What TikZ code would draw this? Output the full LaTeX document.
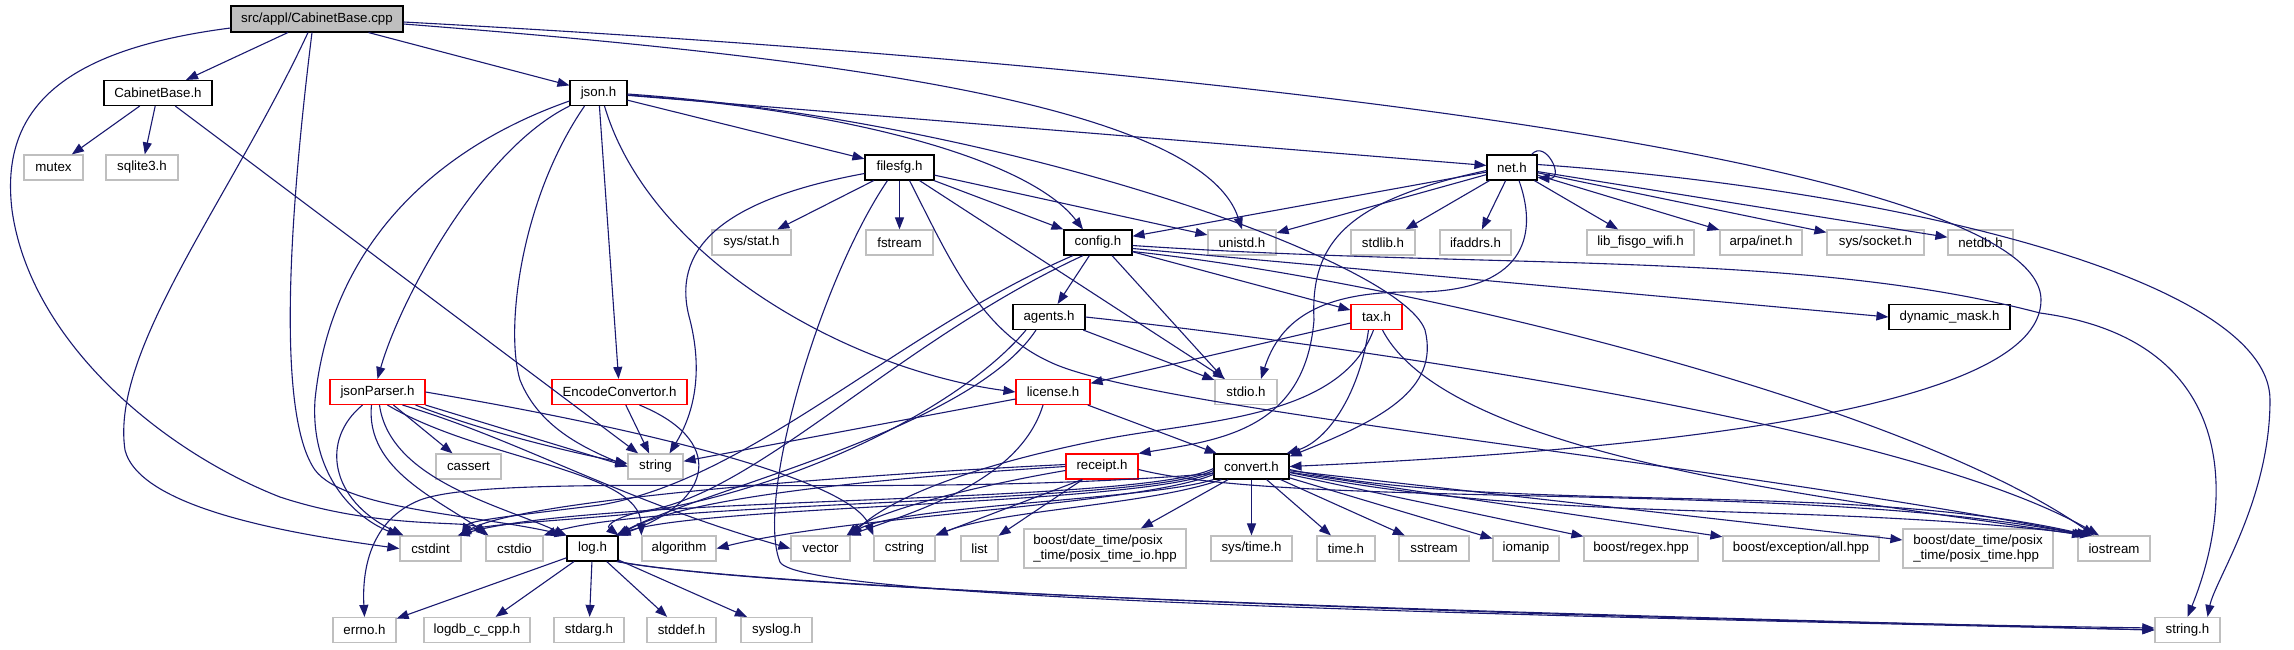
\documentclass[tikz,border=0pt]{standalone}
\usepackage{fontspec}
\setmainfont{Liberation Sans}
\usetikzlibrary{arrows.meta}
\definecolor{edgec}{HTML}{191970}
\definecolor{lgray}{HTML}{BFBFBF}
\definecolor{fillg}{HTML}{BFBFBF}
\begin{document}
\begin{tikzpicture}[x=1pt,y=-1pt,
  nb/.style={draw, rectangle, minimum height=25, inner sep=0pt, font=\fontsize{13.3}{14.5}\selectfont},
  gy/.style={nb, draw=lgray, line width=1.2pt},
  bk/.style={nb, draw=black, line width=1.1pt},
  rd/.style={nb, draw=red, line width=1.1pt},
  e/.style={draw=edgec, line width=1.1pt, -{Triangle[length=12pt,width=9pt]}},
]
\useasboundingbox[fill=white] (0,0) rectangle (2294,649);
% nodes
\node[bk, fill=fillg, minimum width=172, minimum height=26] (src) at (317,19) {src/appl/CabinetBase.cpp};
\node[bk, minimum width=108] (cbh) at (158,93) {CabinetBase.h};
\node[bk, minimum width=57] (json) at (598.5,93) {json.h};
\node[gy, minimum width=59] (mutex) at (53.5,167.5) {mutex};
\node[gy, minimum width=72] (sqlite) at (142,167.5) {sqlite3.h};
\node[bk, minimum width=69] (filesfg) at (899.5,167.5) {filesfg.h};
\node[bk, minimum width=50] (net) at (1512,167.5) {net.h};
\node[gy, minimum width=79] (sysstat) at (751.5,242.5) {sys/stat.h};
\node[gy, minimum width=67] (fstream) at (899.5,242.5) {fstream};
\node[bk, minimum width=68] (config) at (1098,242.5) {config.h};
\node[gy, minimum width=68] (unistd) at (1242,242.5) {unistd.h};
\node[gy, minimum width=64] (stdlib) at (1383,242.5) {stdlib.h};
\node[gy, minimum width=71] (ifaddrs) at (1475.5,242.5) {ifaddrs.h};
\node[gy, minimum width=107] (libfisgo) at (1640.5,242.5) {lib\_fisgo\_wifi.h};
\node[gy, minimum width=82] (arpa) at (1761,242.5) {arpa/inet.h};
\node[gy, minimum width=97] (syssocket) at (1875.5,242.5) {sys/socket.h};
\node[gy, minimum width=65] (netdb) at (1980.5,242.5) {netdb.h};
\node[bk, minimum width=72] (agents) at (1049,317) {agents.h};
\node[rd, minimum width=51] (tax) at (1376.5,317) {tax.h};
\node[bk, minimum width=121] (dynmask) at (1949.5,317) {dynamic\_mask.h};
\node[rd, minimum width=95] (jsonparser) at (377.5,392) {jsonParser.h};
\node[rd, minimum width=135] (encconv) at (619.5,392) {EncodeConvertor.h};
\node[rd, minimum width=74] (license) at (1053,392) {license.h};
\node[gy, minimum width=62] (stdio) at (1246,392) {stdio.h};
\node[gy, minimum width=65] (cassert) at (468.5,466.5) {cassert};
\node[gy, minimum width=55] (string) at (655.5,466.5) {string};
\node[rd, minimum width=72] (receipt) at (1102,466.5) {receipt.h};
\node[bk, minimum width=75] (convert) at (1251.5,466.5) {convert.h};
\node[gy, minimum width=61] (cstdint) at (430.5,548.5) {cstdint};
\node[gy, minimum width=57] (cstdio) at (514.5,548.5) {cstdio};
\node[bk, minimum width=51] (log) at (592.5,548.5) {log.h};
\node[gy, minimum width=74] (algorithm) at (679,548.5) {algorithm};
\node[gy, minimum width=59] (vector) at (820.5,548.5) {vector};
\node[gy, minimum width=61] (cstring) at (904.5,548.5) {cstring};
\node[gy, minimum width=37] (list) at (979.5,548.5) {list};
\node[gy, minimum width=162, minimum height=39, align=left] (ptio) at (1105,548.5) {boost/date\_time/posix\\\_time/posix\_time\_io.hpp};
\node[gy, minimum width=81] (systime) at (1251.5,548.5) {sys/time.h};
\node[gy, minimum width=58] (time) at (1346,548.5) {time.h};
\node[gy, minimum width=70] (sstream) at (1434,548.5) {sstream};
\node[gy, minimum width=66] (iomanip) at (1526,548.5) {iomanip};
\node[gy, minimum width=114] (regex) at (1641,548.5) {boost/regex.hpp};
\node[gy, minimum width=156] (exception) at (1801,548.5) {boost/exception/all.hpp};
\node[gy, minimum width=150, minimum height=39, align=left] (pt) at (1978,548.5) {boost/date\_time/posix\\\_time/posix\_time.hpp};
\node[gy, minimum width=72] (iostream) at (2114,548.5) {iostream};
\node[gy, minimum width=63] (errno) at (364.5,630) {errno.h};
\node[gy, minimum width=106] (logdb) at (477,630) {logdb\_c\_cpp.h};
\node[gy, minimum width=70] (stdarg) at (589,630) {stdarg.h};
\node[gy, minimum width=69] (stddef) at (681.5,630) {stddef.h};
\node[gy, minimum width=71] (syslog) at (776.5,630) {syslog.h};
\node[gy, minimum width=65] (stringh) at (2187.5,630) {string.h};
% src
\draw[e] (src) -- (cbh);
\draw[e] (src) -- (json);
\draw[e] ([yshift=-5pt]src.east) .. controls (800,55) and (1200,100) .. (unistd.north);
\draw[e] ([yshift=-3pt]src.east) .. controls (1300,70) and (2041,170) .. (2041,300) .. controls (2041,410) and (1650,450) .. (convert.east);
\draw[e] ([xshift=-9pt]src.south) .. controls (230,200) and (110,350) .. (125,450) .. controls (140,510) and (300,535) .. (cstdint.west);
\draw[e] ([yshift=-9pt]src.west) .. controls (60,50) and (0,110) .. (12,210) .. controls (30,340) and (160,450) .. (280,497) .. controls (380,530) and (470,520) .. (cstdio.north west);
\draw[e] ([xshift=-5pt]src.south) .. controls (285,250) and (280,420) .. (315,470) .. controls (345,510) and (480,515) .. (log.north west);
% CabinetBase.h
\draw[e] (cbh) -- (mutex);
\draw[e] (cbh) -- (sqlite);
\draw[e] (cbh) -- (string);
% json.h
\draw[e] (json) -- (filesfg);
\draw[e] ([yshift=-2pt]json.east) .. controls (850,110) and (1030,160) .. ([xshift=-15pt]config.north);
\draw[e] (json) -- (net);
\draw[e] (json.south west) .. controls (480,150) and (400,300) .. (jsonparser.north);
\draw[e] (json) -- (encconv);
\draw[e] ([xshift=-14pt]json.south) .. controls (520,200) and (505,330) .. (520,380) .. controls (540,430) and (590,450) .. (string.west);
\draw[e] ([yshift=-8pt]json.west) .. controls (430,150) and (330,250) .. (315,400) .. controls (310,480) and (360,520) .. (cstdint.north west);
\draw[e] ([xshift=6pt]json.south) .. controls (650,260) and (850,370) .. (license.west);
\draw[e] ([yshift=-1pt]json.east) .. controls (1000,120) and (1400,260) .. (1425,330) .. controls (1440,390) and (1380,420) .. ([yshift=-3pt]convert.north east);
% filesfg.h
\draw[e] (filesfg) -- (sysstat);
\draw[e] (filesfg) -- (fstream);
\draw[e] (filesfg) -- (config);
\draw[e] (filesfg) -- (unistd);
\draw[e] ([xshift=20pt]filesfg.south) -- ([xshift=-21pt]stdio.north);
\draw[e] ([yshift=-6pt]filesfg.west) .. controls (720,200) and (670,250) .. (690,320) .. controls (705,380) and (690,420) .. ([xshift=14pt]string.north);
\draw[e] ([xshift=-12pt]filesfg.south) .. controls (820,280) and (755,500) .. (780,562) .. controls (800,600) and (1500,615) .. (stringh.west);
\draw[e] ([xshift=10pt]filesfg.south) .. controls (950,260) and (980,330) .. (1050,362) .. controls (1150,410) and (1700,460) .. ([xshift=-25pt]iostream.north);
% net.h
\draw[e] ([xshift=-6pt]net.north east) .. controls +(14,-16) and +(28,2) .. ([yshift=3pt]net.south east);
\draw[e] (net) -- (config);
\draw[e] (net) -- (unistd);
\draw[e] (net) -- (stdlib);
\draw[e] (net) -- (ifaddrs);
\draw[e] (net) -- (libfisgo);
\draw[e] (net) -- (arpa);
\draw[e] (net) -- (syssocket);
\draw[e] (net) -- (netdb);
\draw[e] ([yshift=3pt]net.east) .. controls (1900,190) and (2270,280) .. (2270,400) .. controls (2270,500) and (2215,580) .. ([xshift=20pt]stringh.north);
\draw[e] ([yshift=-3pt]net.west) .. controls (1350,200) and (1310,240) .. (1314,320) .. controls (1305,430) and (1220,440) .. (receipt.north east);
\draw[e] ([xshift=7pt]net.south) .. controls (1540,240) and (1520,290) .. (1420,292) .. controls (1320,290) and (1280,320) .. ([xshift=15pt]stdio.north);
% config.h
\draw[e] (config) -- (agents);
\draw[e] ([xshift=14pt]config.south) -- ([xshift=-22pt]stdio.north);
\draw[e] (config) -- (tax);
\draw[e] ([yshift=-6pt]config.east) -- (dynmask.west);
\draw[e] ([yshift=-3pt]config.east) .. controls (1500,270) and (1800,250) .. (2040,313) .. controls (2240,340) and (2235,500) .. (stringh.north);
\draw[e] ([yshift=-9pt]config.east) .. controls (1400,280) and (1900,400) .. ([xshift=-20pt]iostream.north);
\draw[e] ([xshift=-25pt]config.south) .. controls (900,330) and (750,480) .. (600,505) .. controls (520,515) and (470,520) .. (cstdint.north east);
\draw[e] ([xshift=-15pt]config.south) .. controls (900,340) and (760,490) .. (650,510) .. controls (620,515) and (605,525) .. (log.north east);
% agents.h
\draw[e] (agents) -- (stdio);
\draw[e] ([xshift=-23pt]agents.south) .. controls (950,420) and (760,500) .. (620,515) .. controls (540,522) and (480,525) .. ([xshift=-3pt]cstdint.north east);
\draw[e] ([xshift=-13pt]agents.south) .. controls (970,430) and (700,490) .. ([xshift=-2pt]log.north east);
\draw[e] (agents.east) .. controls (1300,340) and (1900,420) .. ([xshift=-15pt]iostream.north);
% tax.h
\draw[e] (tax) -- (license);
\draw[e] ([xshift=-8pt]tax.south) .. controls (1360,390) and (1330,440) .. ([xshift=-3pt]convert.north east);
\draw[e] ([xshift=-3pt]tax.south) .. controls (1340,420) and (1200,420) .. (1100,440) .. controls (1000,460) and (900,490) .. (vector.north east);
\draw[e] ([xshift=6pt]tax.south) .. controls (1450,460) and (1850,500) .. ([xshift=-30pt]iostream.north);
% license.h
\draw[e] (license) -- (string);
\draw[e] (license) -- (convert);
\draw[e] ([xshift=-10pt]license.south) .. controls (1020,480) and (920,510) .. ([xshift=-2pt]vector.north east);
% receipt.h
\draw[e] (receipt) -- (list);
\draw[e] ([xshift=-20pt]receipt.south) -- (cstring.north east);
\draw[e] ([yshift=2pt]receipt.west) .. controls (850,475) and (520,500) .. ([xshift=-2pt]cstdint.north east);
\draw[e] (receipt.west) .. controls (850,480) and (680,500) .. (log.north east);
\draw[e] ([yshift=-4pt]receipt.west) .. controls (980,485) and (880,510) .. ([xshift=-4pt]vector.north east);
\draw[e] ([yshift=-3pt]receipt.east) .. controls (1300,510) and (1800,480) .. ([xshift=-28pt]iostream.north);
% convert.h
\draw[e] (convert) -- (ptio);
\draw[e] (convert) -- (systime);
\draw[e] (convert) -- (time);
\draw[e] (convert) -- (sstream);
\draw[e] (convert) -- (iomanip);
\draw[e] (convert) -- (regex);
\draw[e] (convert) -- (exception);
\draw[e] (convert) -- (pt);
\draw[e] ([yshift=-3pt]convert.east) .. controls (1500,515) and (1850,480) .. ([xshift=-25pt]iostream.north);
\draw[e] ([yshift=-6pt]convert.east) .. controls (1550,525) and (1800,500) .. ([xshift=-22pt]iostream.north);
\draw[e] ([yshift=-7pt]convert.west) .. controls (900,500) and (500,470) .. (420,500) .. controls (370,520) and (362,570) .. (errno.north);
\draw[e] ([yshift=-2pt]convert.west) .. controls (1140,505) and (600,495) .. ([xshift=-4pt]cstdint.north east);
\draw[e] ([yshift=-4pt]convert.west) .. controls (1140,505) and (650,500) .. (cstdio.north east);
\draw[e] ([yshift=-6pt]convert.west) .. controls (1140,505) and (700,505) .. ([xshift=-3pt]log.north east);
\draw[e] ([yshift=-8pt]convert.west) .. controls (1140,505) and (850,515) .. (algorithm.east);
\draw[e] (convert.south west) .. controls (1150,500) and (900,505) .. ([xshift=-3pt]vector.north east);
\draw[e] ([xshift=8pt]convert.south west) .. controls (1150,505) and (1000,510) .. (cstring.north east);
% jsonParser.h
\draw[e] (jsonparser.south east) -- (string.west);
\draw[e] ([xshift=-10pt]jsonparser.south east) .. controls (480,430) and (560,450) .. ([yshift=3pt]string.west);
\draw[e] (jsonparser) -- (cassert);
\draw[e] ([xshift=-15pt]jsonparser.south) .. controls (320,440) and (330,500) .. ([xshift=4pt]cstdint.north west);
\draw[e] ([xshift=-6pt]jsonparser.south) .. controls (365,470) and (440,500) .. ([xshift=3pt]cstdio.north west);
\draw[e] ([xshift=2pt]jsonparser.south) .. controls (390,480) and (500,505) .. (log.north west);
\draw[e] ([xshift=10pt]jsonparser.south) .. controls (480,460) and (640,470) .. (algorithm.north west);
\draw[e] ([xshift=25pt]jsonparser.south) .. controls (520,440) and (620,500) .. (vector.west);
\draw[e] (jsonparser.east) .. controls (650,430) and (850,480) .. (cstring.north west);
% EncodeConvertor.h
\draw[e] (encconv) -- (string);
\draw[e] ([xshift=20pt]encconv.south) .. controls (725,440) and (715,500) .. (log.north east);
% log.h
\draw[e] (log) -- (errno);
\draw[e] (log) -- (logdb);
\draw[e] (log) -- (stdarg);
\draw[e] (log) -- (stddef);
\draw[e] (log) -- (syslog);
\draw[e] ([xshift=-2pt]log.south east) .. controls (800,595) and (1600,615) .. (stringh.west);
\draw[e] (log.south east) .. controls (760,590) and (1600,620) .. ([yshift=2pt]stringh.west);
\end{tikzpicture}
\end{document}
